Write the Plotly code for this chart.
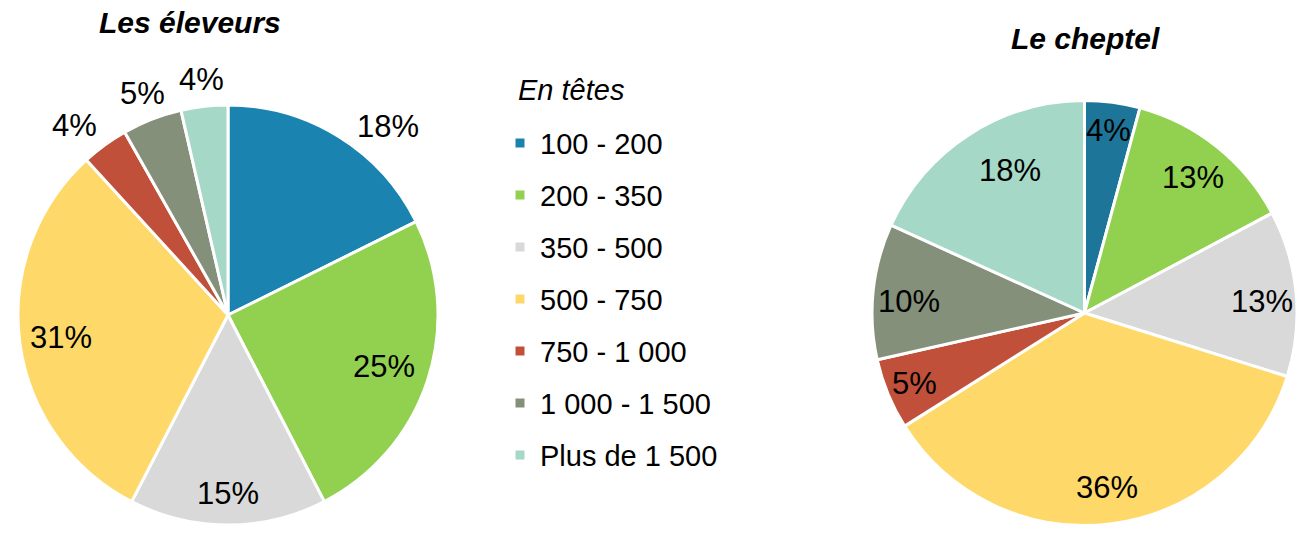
import math
import plotly.graph_objects as go

W, H = 1297, 535

categories = ["100 - 200", "200 - 350", "350 - 500", "500 - 750",
              "750 - 1 000", "1 000 - 1 500", "Plus de 1 500"]
eleveurs = [17.7, 24.8, 15.2, 30.7, 3.6, 4.6, 3.6]
cheptel = [4.2, 13.0, 12.6, 36.2, 5.4, 10.3, 18.2]

title_left = "Les éleveurs"
title_right = "Le cheptel"
legend_title = "En têtes"

colors_left = ["#1a83b0", "#92d050", "#d9d9d9", "#fed96a", "#c0503a", "#849079", "#a5d8c6"]
colors_right = ["#1d7699", "#92d050", "#d9d9d9", "#fed96a", "#c0503a", "#849079", "#a5d8c6"]

FONT = "Liberation Sans, Arial, Helvetica, sans-serif"


def px_x(x):
    return x / W


def px_y(y):
    return 1 - y / H


# pie placement (pixels): centre x, centre y, radius
pies = [
    dict(values=eleveurs, colors=colors_left, cx=228, cy=315, r=210,
         k=[1.18, 0.78, 0.85, 0.80, 1.16, 1.13, 1.13],
         dang=[8.5, 0, 0, 0, -3, 0, 0], legend=True),
    dict(values=cheptel, colors=colors_right, cx=1089, cy=313, r=217,
         k=[0.85, 0.80, 0.82, 0.81, 0.85, 0.81, 0.74],
         dang=[0, 0, 1.5, 0, 0, -2, 5], legend=False),
]

fig = go.Figure()
annotations = []
for p in pies:
    x0, x1 = px_x(p["cx"] - p["r"]), min(px_x(p["cx"] + p["r"]), 1.0)
    cx_eff = (x0 + x1) / 2 * W
    y0, y1 = px_y(p["cy"] + p["r"]), px_y(p["cy"] - p["r"])
    fig.add_trace(go.Pie(
        labels=[f'<span style="font-size:29px;baseline-shift:4px">{c}</span>' for c in categories],
        values=p["values"], sort=False,
        direction="clockwise", rotation=0,
        marker=dict(colors=p["colors"], line=dict(color="white", width=3)),
        textinfo="none", hoverinfo="label+percent",
        showlegend=p["legend"],
        domain=dict(x=[x0, x1], y=[y0, y1]),
    ))
    total = sum(p["values"])
    cum = 0.0
    for i, v in enumerate(p["values"]):
        mid = (cum + v / 2) / total * 360 + p["dang"][i]
        cum += v
        a = math.radians(mid)
        sx = cx_eff + p["k"][i] * p["r"] * math.sin(a)
        sy = p["cy"] - p["k"][i] * p["r"] * math.cos(a)
        annotations.append(dict(
            x=px_x(sx), y=px_y(sy), xref="paper", yref="paper",
            text=f"{v / total * 100:.0f}%", showarrow=False,
            xanchor="center", yanchor="middle",
            font=dict(family=FONT, size=31, color="black"),
        ))

annotations.append(dict(x=px_x(190), y=px_y(23), xref="paper", yref="paper",
                        text=title_left, showarrow=False, xanchor="center", yanchor="middle",
                        font=dict(family=FONT, size=30, color="black", weight="bold", style="italic")))
annotations.append(dict(x=px_x(1085), y=px_y(39), xref="paper", yref="paper",
                        text=title_right, showarrow=False, xanchor="center", yanchor="middle",
                        font=dict(family=FONT, size=30, color="black", weight="bold", style="italic")))
annotations.append(dict(x=px_x(516), y=px_y(90), xref="paper", yref="paper",
                        text=legend_title, showarrow=False, xanchor="left", yanchor="middle",
                        font=dict(family=FONT, size=29, color="black", style="italic")))

fig.update_layout(
    width=W, height=H,
    margin=dict(l=0, r=0, t=0, b=0),
    paper_bgcolor="white", plot_bgcolor="white",
    font=dict(family=FONT, color="black"),
    annotations=annotations,
    legend=dict(x=px_x(505), y=px_y(112), xanchor="left", yanchor="top",
                font=dict(family=FONT, size=37.7, color="black"),
                indentation=-5, bgcolor="rgba(0,0,0,0)", traceorder="normal"),
)

fig.write_html("out.html", config={"displayModeBar": False},
               post_script="document.body.style.margin='0';document.body.style.overflow='hidden';")
